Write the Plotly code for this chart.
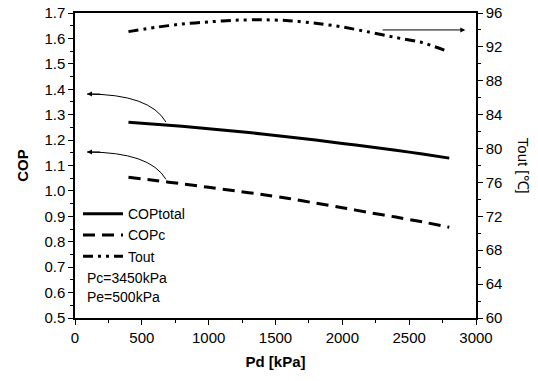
import plotly.graph_objects as go

pd_kpa = [400, 600, 800, 1000, 1200, 1400, 1600, 1800, 2000, 2200, 2400, 2600, 2800]
cop_total = [1.270, 1.262, 1.254, 1.245, 1.235, 1.224, 1.212, 1.200, 1.187, 1.174, 1.160, 1.145, 1.129]
cop_c = [1.054, 1.041, 1.028, 1.014, 1.000, 0.986, 0.970, 0.952, 0.934, 0.915, 0.897, 0.878, 0.857]
tout = [93.8, 94.3, 94.7, 94.95, 95.15, 95.2, 95.1, 94.8, 94.35, 93.75, 93.1, 92.5, 91.4]

font = "Liberation Sans, Arial, sans-serif"
fig = go.Figure()
fig.add_trace(go.Scatter(x=pd_kpa, y=cop_total, mode="lines", name="COPtotal",
                         line=dict(color="black", width=3, shape="spline", smoothing=0.6)))
fig.add_trace(go.Scatter(x=pd_kpa, y=cop_c, mode="lines", name="COPc",
                         line=dict(color="black", width=3, dash="12px,7px", shape="spline", smoothing=0.6)))
fig.add_trace(go.Scatter(x=pd_kpa, y=tout, mode="lines", name="Tout", yaxis="y2",
                         line=dict(color="black", width=3, dash="10px,5px,3px,5px,3px,5px",
                                   shape="spline", smoothing=0.6)))

# curved arrows
fig.add_shape(type="path", path="M 680,1.271 Q 560,1.381 90,1.381",
              xref="x", yref="y", line=dict(color="black", width=1))
fig.add_shape(type="path", path="M 680,1.046 Q 560,1.153 90,1.153",
              xref="x", yref="y", line=dict(color="black", width=1))
for yy in [1.381, 1.153]:
    fig.add_annotation(x=90, y=yy, ax=200, ay=yy, xref="x", yref="y", axref="x", ayref="y",
                       text="", showarrow=True, arrowhead=2, arrowsize=1, arrowwidth=1,
                       arrowcolor="black")
fig.add_annotation(x=2920, y=94.0, ax=2290, ay=94.0, xref="x", yref="y2", axref="x", ayref="y2",
                   text="", showarrow=True, arrowhead=2, arrowsize=1, arrowwidth=1,
                   arrowcolor="black")

fig.add_annotation(x=0.025, y=0.131, xref="paper", yref="paper", xanchor="left", yanchor="middle",
                   text="Pc=3450kPa", showarrow=False, font=dict(size=14, family=font, color="black"))
fig.add_annotation(x=0.025, y=0.069, xref="paper", yref="paper", xanchor="left", yanchor="middle",
                   text="Pe=500kPa", showarrow=False, font=dict(size=14, family=font, color="black"))
fig.add_annotation(x=1.145, y=0.5, xref="paper", yref="paper", text="Tout [℃]", textangle=90,
                   showarrow=False, font=dict(size=15, family=font, color="black"))

fig.update_layout(
    width=538, height=381,
    margin=dict(l=75, r=62, t=13, b=63, autoexpand=False),
    paper_bgcolor="white", plot_bgcolor="white",
    font=dict(family=font, size=15, color="black"),
    showlegend=True,
    legend=dict(x=0.0075, y=0.393, xanchor="left", yanchor="top", bgcolor="rgba(0,0,0,0)",
                font=dict(size=14), itemwidth=40, tracegroupgap=0),
    xaxis=dict(range=[0, 3000], dtick=500, tick0=0, showgrid=False, zeroline=False,
               showline=True, linecolor="black", linewidth=1.5, mirror=True, automargin=False,
               ticks="outside", ticklen=5, tickcolor="black", ticklabeloverflow="allow",
               minor=dict(dtick=250, ticks="outside", ticklen=3, tickcolor="black"),
               title=dict(text="<b>Pd [kPa]</b>", standoff=12, font=dict(size=15))),
    yaxis=dict(range=[0.5, 1.7], dtick=0.1, tick0=0.5, tickformat=".1f", showgrid=False,
               zeroline=False, showline=True, linecolor="black", linewidth=1.5, automargin=False,
               ticks="outside", ticklen=5, tickcolor="black", ticklabeloverflow="allow",
               minor=dict(dtick=0.05, ticks="outside", ticklen=3, tickcolor="black"),
               title=dict(text="<b>COP</b>", standoff=12, font=dict(size=15))),
    yaxis2=dict(range=[60, 96], dtick=4, tick0=60, overlaying="y", side="right",
                showgrid=False, zeroline=False, showline=True, linecolor="black", linewidth=1.5,
                automargin=False,
                ticks="outside", ticklen=5, tickcolor="black", ticklabeloverflow="allow",
                minor=dict(dtick=2, ticks="outside", ticklen=3, tickcolor="black")),
)
fig.write_html("out.html", config={"displayModeBar": False},
               post_script="document.body.style.margin='0';")
